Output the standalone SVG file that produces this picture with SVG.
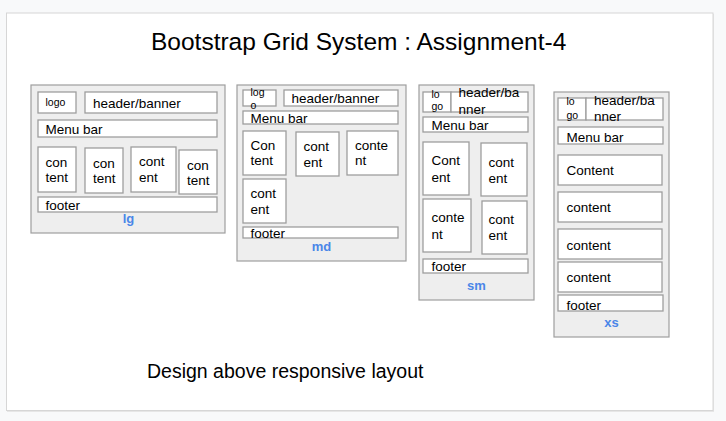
<svg xmlns="http://www.w3.org/2000/svg" width="726" height="421" viewBox="0 0 726 421">
<style>
.outer{fill:#eeeeee;stroke:#9e9e9e;stroke-width:1.2}
.box{fill:#ffffff;stroke:#9e9e9e;stroke-width:1.3}
text{font-family:"Liberation Sans",Arial,sans-serif;fill:#000}
.t{font-size:13.5px}
.s{font-size:10.5px}
.lbl{font-size:13px;font-weight:bold;fill:#4a86e8;text-anchor:middle}
</style>
<rect x="0" y="0" width="726" height="421" fill="#f8f9fa"/>
<rect x="7" y="14" width="707" height="398" fill="#e6e6e6"/>
<rect x="6.5" y="13" width="706.5" height="397.5" fill="#ffffff" stroke="#d6d6d6" stroke-width="1"/>
<g id="title"><text x="151" y="49.5" style="font-size:24.5px">Bootstrap Grid System : Assignment-4</text></g>

<g id="lg">
<rect class="outer" x="31" y="85" width="194" height="148"/>
<g id="lg-logo"><rect class="box" x="38" y="92" width="38" height="21"/><text class="s" x="45.5" y="106">logo</text></g>
<g id="lg-header"><rect class="box" x="85" y="92" width="132" height="21"/><text class="t" x="93" y="107.5">header/banner</text></g>
<g id="lg-menu"><rect class="box" x="38" y="120" width="179" height="17"/><text class="t" x="45.5" y="133.5">Menu bar</text></g>
<g id="lg-c1"><rect class="box" x="38" y="147" width="38" height="45"/><text class="t" x="45.5" y="166.5">con</text><text class="t" x="45.5" y="181.5">tent</text></g>
<g id="lg-c2"><rect class="box" x="85" y="148" width="38" height="45"/><text class="t" x="93" y="167.5">con</text><text class="t" x="93" y="182.5">tent</text></g>
<g id="lg-c3"><rect class="box" x="131" y="147" width="45" height="45"/><text class="t" x="139" y="166">cont</text><text class="t" x="139" y="181.5">ent</text></g>
<g id="lg-c4"><rect class="box" x="179" y="150" width="38" height="44"/><text class="t" x="187" y="170">con</text><text class="t" x="187" y="185">tent</text></g>
<g id="lg-footer"><rect class="box" x="38" y="197" width="179" height="15"/><text class="t" x="45.5" y="209.5">footer</text></g>
<text class="lbl" x="128.5" y="223">lg</text>
</g>

<g id="md">
<rect class="outer" x="237" y="85" width="169" height="176"/>
<g id="md-logo"><rect class="box" x="243" y="90" width="33" height="16"/><text class="s" x="250.5" y="95.5">log</text><text class="s" x="250.5" y="108.5">o</text></g>
<g id="md-header"><rect class="box" x="284" y="90" width="114" height="16"/><text class="t" x="291.5" y="102.5">header/banner</text></g>
<g id="md-menu"><rect class="box" x="243" y="111" width="155" height="13"/><text class="t" x="250.5" y="122.5">Menu bar</text></g>
<g id="md-c1"><rect class="box" x="243" y="131" width="43" height="44"/><text class="t" x="250.5" y="149.5">Con</text><text class="t" x="250.5" y="165">tent</text></g>
<g id="md-c2"><rect class="box" x="296" y="132" width="43" height="44"/><text class="t" x="303.5" y="151">cont</text><text class="t" x="303.5" y="166.5">ent</text></g>
<g id="md-c3"><rect class="box" x="347" y="131" width="51" height="44"/><text class="t" x="355" y="149.5">conte</text><text class="t" x="355" y="165">nt</text></g>
<g id="md-c4"><rect class="box" x="243" y="179" width="43" height="44"/><text class="t" x="250.5" y="197.5">cont</text><text class="t" x="250.5" y="213.5">ent</text></g>
<g id="md-footer"><rect class="box" x="243" y="227" width="155" height="11"/><text class="t" x="250.5" y="237.5">footer</text></g>
<text class="lbl" x="321.5" y="250.5">md</text>
</g>

<g id="sm">
<rect class="outer" x="419" y="85" width="115" height="215"/>
<g id="sm-logo"><rect class="box" x="423" y="92" width="28" height="20"/><text class="s" x="431.5" y="97.5">lo</text><text class="s" x="431.5" y="110">go</text></g>
<g id="sm-header"><rect class="box" x="451" y="92" width="77" height="20"/><text class="t" x="458.5" y="96.5">header/ba</text><text class="t" x="458.5" y="113.5">nner</text></g>
<g id="sm-menu"><rect class="box" x="423" y="117" width="105" height="15"/><text class="t" x="431.5" y="130">Menu bar</text></g>
<g id="sm-c1"><rect class="box" x="423" y="142" width="46" height="53"/><text class="t" x="431.5" y="164.5">Cont</text><text class="t" x="431.5" y="181.5">ent</text></g>
<g id="sm-c2"><rect class="box" x="481" y="143" width="46" height="53"/><text class="t" x="488.5" y="166.5">cont</text><text class="t" x="488.5" y="182.5">ent</text></g>
<g id="sm-c3"><rect class="box" x="423" y="199" width="48" height="53"/><text class="t" x="431.5" y="221.5">conte</text><text class="t" x="431.5" y="238.5">nt</text></g>
<g id="sm-c4"><rect class="box" x="482" y="201" width="45" height="53"/><text class="t" x="488.5" y="223.5">cont</text><text class="t" x="488.5" y="240">ent</text></g>
<g id="sm-footer"><rect class="box" x="423" y="259" width="105" height="14"/><text class="t" x="431.5" y="270.5">footer</text></g>
<text class="lbl" x="476.5" y="290">sm</text>
</g>

<g id="xs">
<rect class="outer" x="554" y="92" width="115" height="245"/>
<g id="xs-logo"><rect class="box" x="558" y="98" width="28" height="22"/><text class="s" x="566.5" y="105">lo</text><text class="s" x="566.5" y="118.5">go</text></g>
<g id="xs-header"><rect class="box" x="586" y="98" width="77" height="22"/><text class="t" x="594" y="105">header/ba</text><text class="t" x="594" y="120.5">nner</text></g>
<g id="xs-menu"><rect class="box" x="558" y="127" width="105" height="17"/><text class="t" x="566.5" y="142">Menu bar</text></g>
<g id="xs-c1"><rect class="box" x="558" y="155" width="104" height="30"/><text class="t" x="566.5" y="175">Content</text></g>
<g id="xs-c2"><rect class="box" x="558" y="192" width="104" height="30"/><text class="t" x="566.5" y="212">content</text></g>
<g id="xs-c3"><rect class="box" x="558" y="229" width="104" height="30"/><text class="t" x="566.5" y="249.5">content</text></g>
<g id="xs-c4"><rect class="box" x="558" y="262" width="104" height="30"/><text class="t" x="566.5" y="282">content</text></g>
<g id="xs-footer"><rect class="box" x="558" y="295" width="105" height="16"/><text class="t" x="566.5" y="309.5">footer</text></g>
<text class="lbl" x="611.5" y="327">xs</text>
</g>

<g id="caption"><text x="147" y="378" style="font-size:19.5px">Design above responsive layout</text></g>
</svg>
